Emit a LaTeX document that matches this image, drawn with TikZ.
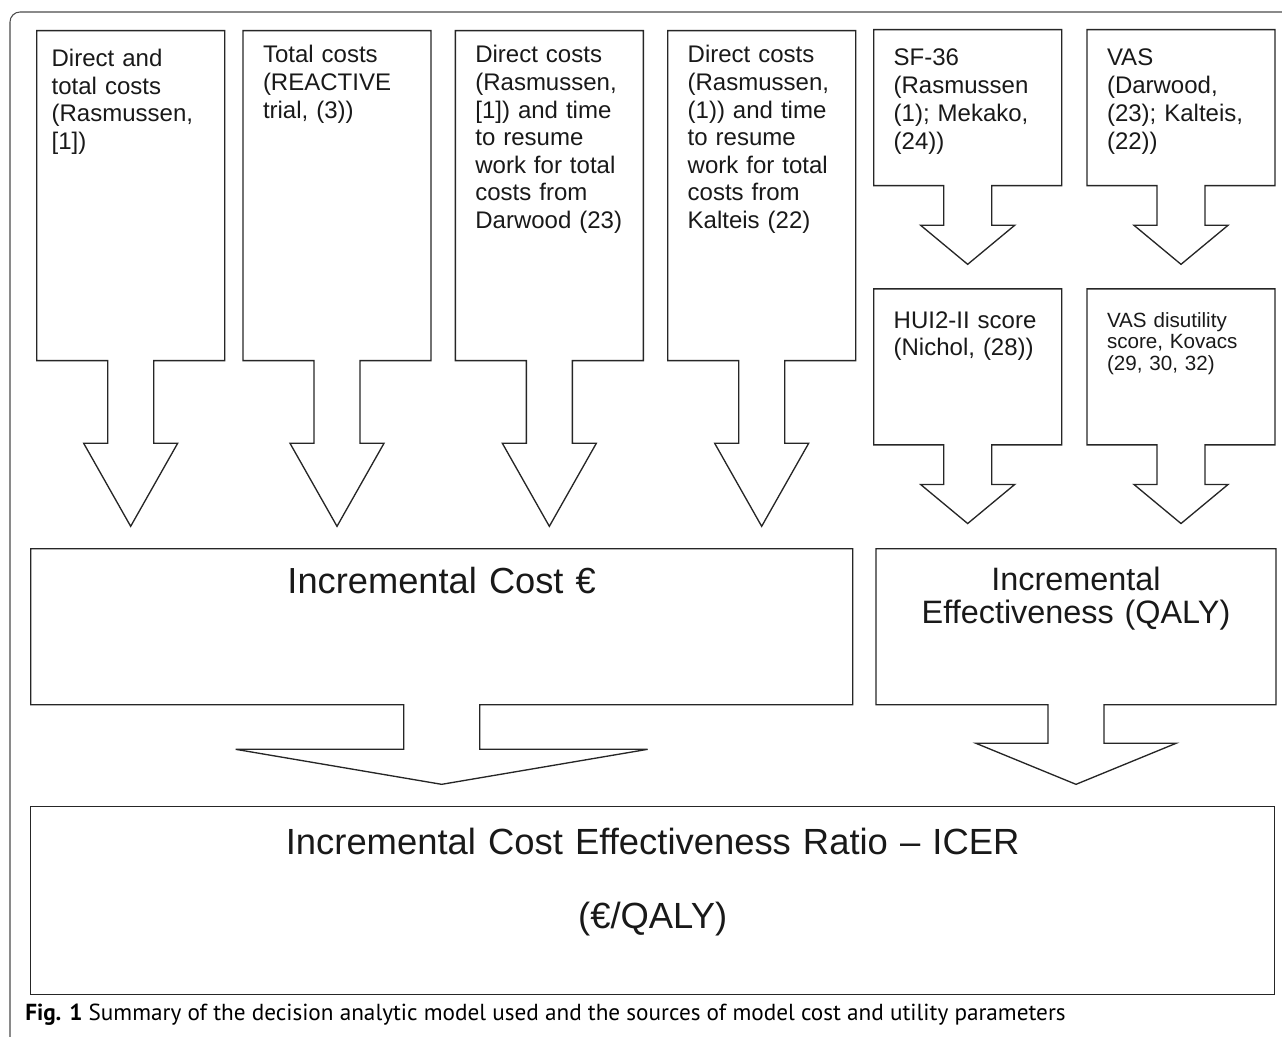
\documentclass[tikz,border=0pt]{standalone}
\usepackage{fontspec}
\setmainfont{Liberation Sans}
\newfontfamily\captionfont{PT Sans}
\usetikzlibrary{shapes.arrows,positioning}

\begin{document}
\begin{tikzpicture}[
    x=1pt, y=1pt,
    blockarrow/.style={
      arrow box, draw=black!85, line width=1pt, text=black!90,
      arrow box north arrow=0pt, arrow box east arrow=0pt, arrow box west arrow=0pt,
      arrow box head indent=0pt
    },
    costsrc/.style={
      blockarrow, align=left, font=\fontsize{18pt}{20.7pt}\selectfont,
      inner xsep=15pt, inner ysep=0pt, text width=111pt,
      text height=24.15pt, text depth=223.35pt,
      arrow box shaft width=34.5pt, arrow box head extend=18pt,
      arrow box tip angle=59, arrow box south arrow=123.75pt
    },
    utilsrc/.style={
      blockarrow, align=left, font=\fontsize{18pt}{20.8pt}\selectfont,
      inner xsep=15pt, inner ysep=0pt, text width=111pt,
      text height=27.15pt, text depth=89.85pt,
      arrow box shaft width=36pt, arrow box head extend=17.25pt,
      arrow box tip angle=100.6, arrow box south arrow=58.5pt
    },
    sumbox/.style={
      blockarrow, align=center, inner sep=0pt, arrow box south arrow=59.25pt
    },
    ratiobox/.style={
      rectangle, draw=black!85, line width=1pt, text=black!90, align=center, inner sep=0pt
    }
  ]
  \useasboundingbox (0,0) rectangle (961.5,-777.75);
  % outer frame
  \draw[black!70, line width=0.8pt, rounded corners=7.5pt] (7.5,-777.75) -- (7.5,-9) -- (961.5,-9);

  % cost sources
  \node[costsrc, anchor=north west, inner xsep=11.25pt, text width=118.5pt,
        text height=27pt, text depth=220.5pt] (dirtot) at (27,-22.5)
    {Direct and\\total costs\\(Rasmussen,\\{[1]})};
  \node[costsrc, right=12.75pt of dirtot] (reactive) {Total costs\\(REACTIVE\\trial, (3))};
  \node[costsrc, right=17.25pt of reactive] (darwood)
    {Direct costs\\(Rasmussen,\\{[1]}) and time\\to resume\\work for total\\costs from\\Darwood (23)};
  \node[costsrc, right=17.25pt of darwood] (kalteis)
    {Direct costs\\(Rasmussen,\\(1)) and time\\to resume\\work for total\\costs from\\Kalteis (22)};

  % utility sources
  \node[utilsrc, anchor=north west] (sf36) at (654.75,-21.75) {SF-36\\(Rasmussen\\(1); Mekako,\\(24))};
  \node[utilsrc, right=18pt of sf36] (vas) {VAS\\(Darwood,\\(23); Kalteis,\\(22))};
  \node[utilsrc, below=17.25pt of sf36, text height=29.4pt, text depth=87.6pt] (hui) {HUI2-II score\\(Nichol, (28))};
  \node[utilsrc, below=17.25pt of vas, text height=29.1pt, text depth=87.9pt,
        font=\fontsize{15.45pt}{16pt}\selectfont] (vasdis) {VAS disutility\\score, Kovacs\\(29, 30, 32)};

  % increments
  \node[sumbox, anchor=north west, font=\fontsize{27.2pt}{28pt}\selectfont, text width=616.5pt,
        text height=33.75pt, text depth=83.25pt, arrow box shaft width=57pt,
        arrow box head extend=126pt, arrow box tip angle=160.7] (inccost) at (22.5,-411) {Incremental Cost €};
  \node[sumbox, right=16.5pt of inccost, font=\fontsize{24.3pt}{24.75pt}\selectfont, text width=300pt,
        text height=31.65pt, text depth=85.35pt, arrow box shaft width=42pt,
        arrow box head extend=54pt, arrow box tip angle=135.4] (inceff) {Incremental\\Effectiveness (QALY)};

  % ratio
  \node[ratiobox, anchor=north west, font=\fontsize{27.3pt}{28pt}\selectfont, text width=933pt,
        text height=35.5pt, text depth=105.5pt] (icer) at (22.5,-604.5)
    {Incremental Cost Effectiveness Ratio – ICER\\[28pt](€/QALY)};

  \node[anchor=base west, inner sep=0pt, font=\captionfont\fontsize{17.4pt}{20pt}\selectfont] (caption) at (18.75,-765)
    {\textbf{Fig. 1} Summary of the decision analytic model used and the sources of model cost and utility parameters};
\end{tikzpicture}
\end{document}
